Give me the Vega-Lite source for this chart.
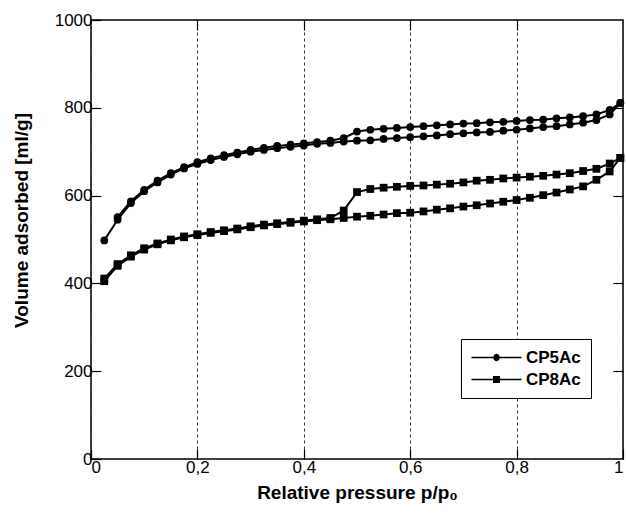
{
  "$schema": "https://vega.github.io/schema/vega-lite/v6.json",
  "width": 532,
  "height": 439,
  "autosize": {"type": "none"},
  "padding": {"left": 91, "top": 20, "right": 3, "bottom": 60},
  "background": "white",
  "config": {
    "view": {"stroke": "black", "strokeWidth": 1.5},
    "font": "Liberation Sans",
    "axis": {
      "labelFont": "Liberation Sans",
      "titleFont": "Liberation Sans",
      "labelColor": "black",
      "titleColor": "black",
      "tickColor": "black",
      "labelFontSize": 17,
      "titleFontSize": 19,
      "titleFontWeight": "bold",
      "domain": false
    }
  },
  "datasets": {
    "iso": [
      {"s":"CP5Ac","b":"ads","p":0.025,"v":498},{"s":"CP5Ac","b":"ads","p":0.05,"v":545},{"s":"CP5Ac","b":"ads","p":0.075,"v":583},{"s":"CP5Ac","b":"ads","p":0.1,"v":610},{"s":"CP5Ac","b":"ads","p":0.125,"v":630},{"s":"CP5Ac","b":"ads","p":0.15,"v":648},{"s":"CP5Ac","b":"ads","p":0.175,"v":662},{"s":"CP5Ac","b":"ads","p":0.2,"v":672},{"s":"CP5Ac","b":"ads","p":0.225,"v":681},{"s":"CP5Ac","b":"ads","p":0.25,"v":688},{"s":"CP5Ac","b":"ads","p":0.275,"v":694},{"s":"CP5Ac","b":"ads","p":0.3,"v":700},{"s":"CP5Ac","b":"ads","p":0.325,"v":704},{"s":"CP5Ac","b":"ads","p":0.35,"v":708},{"s":"CP5Ac","b":"ads","p":0.375,"v":711},{"s":"CP5Ac","b":"ads","p":0.4,"v":714},{"s":"CP5Ac","b":"ads","p":0.425,"v":718},{"s":"CP5Ac","b":"ads","p":0.45,"v":720},{"s":"CP5Ac","b":"ads","p":0.475,"v":723},{"s":"CP5Ac","b":"ads","p":0.5,"v":725},{"s":"CP5Ac","b":"ads","p":0.525,"v":726},{"s":"CP5Ac","b":"ads","p":0.55,"v":729},{"s":"CP5Ac","b":"ads","p":0.575,"v":731},{"s":"CP5Ac","b":"ads","p":0.6,"v":733},{"s":"CP5Ac","b":"ads","p":0.625,"v":735},{"s":"CP5Ac","b":"ads","p":0.65,"v":737},{"s":"CP5Ac","b":"ads","p":0.675,"v":740},{"s":"CP5Ac","b":"ads","p":0.7,"v":742},{"s":"CP5Ac","b":"ads","p":0.725,"v":744},{"s":"CP5Ac","b":"ads","p":0.75,"v":745},{"s":"CP5Ac","b":"ads","p":0.775,"v":748},{"s":"CP5Ac","b":"ads","p":0.8,"v":750},{"s":"CP5Ac","b":"ads","p":0.825,"v":753},{"s":"CP5Ac","b":"ads","p":0.85,"v":756},{"s":"CP5Ac","b":"ads","p":0.875,"v":758},{"s":"CP5Ac","b":"ads","p":0.9,"v":762},{"s":"CP5Ac","b":"ads","p":0.925,"v":766},{"s":"CP5Ac","b":"ads","p":0.95,"v":772},{"s":"CP5Ac","b":"ads","p":0.975,"v":785},{"s":"CP5Ac","b":"ads","p":0.995,"v":811},
      {"s":"CP5Ac","b":"des","p":0.995,"v":811},{"s":"CP5Ac","b":"des","p":0.975,"v":795},{"s":"CP5Ac","b":"des","p":0.95,"v":785},{"s":"CP5Ac","b":"des","p":0.925,"v":781},{"s":"CP5Ac","b":"des","p":0.9,"v":778},{"s":"CP5Ac","b":"des","p":0.875,"v":776},{"s":"CP5Ac","b":"des","p":0.85,"v":773},{"s":"CP5Ac","b":"des","p":0.825,"v":772},{"s":"CP5Ac","b":"des","p":0.8,"v":770},{"s":"CP5Ac","b":"des","p":0.775,"v":768},{"s":"CP5Ac","b":"des","p":0.75,"v":767},{"s":"CP5Ac","b":"des","p":0.725,"v":765},{"s":"CP5Ac","b":"des","p":0.7,"v":764},{"s":"CP5Ac","b":"des","p":0.675,"v":762},{"s":"CP5Ac","b":"des","p":0.65,"v":760},{"s":"CP5Ac","b":"des","p":0.625,"v":758},{"s":"CP5Ac","b":"des","p":0.6,"v":756},{"s":"CP5Ac","b":"des","p":0.575,"v":754},{"s":"CP5Ac","b":"des","p":0.55,"v":752},{"s":"CP5Ac","b":"des","p":0.525,"v":750},{"s":"CP5Ac","b":"des","p":0.5,"v":746},{"s":"CP5Ac","b":"des","p":0.475,"v":731},{"s":"CP5Ac","b":"des","p":0.45,"v":725},{"s":"CP5Ac","b":"des","p":0.425,"v":722},{"s":"CP5Ac","b":"des","p":0.4,"v":719},{"s":"CP5Ac","b":"des","p":0.375,"v":716},{"s":"CP5Ac","b":"des","p":0.35,"v":713},{"s":"CP5Ac","b":"des","p":0.325,"v":709},{"s":"CP5Ac","b":"des","p":0.3,"v":704},{"s":"CP5Ac","b":"des","p":0.275,"v":698},{"s":"CP5Ac","b":"des","p":0.25,"v":692},{"s":"CP5Ac","b":"des","p":0.225,"v":685},{"s":"CP5Ac","b":"des","p":0.2,"v":676},{"s":"CP5Ac","b":"des","p":0.175,"v":665},{"s":"CP5Ac","b":"des","p":0.15,"v":651},{"s":"CP5Ac","b":"des","p":0.125,"v":634},{"s":"CP5Ac","b":"des","p":0.1,"v":613},{"s":"CP5Ac","b":"des","p":0.075,"v":587},{"s":"CP5Ac","b":"des","p":0.05,"v":551},
      {"s":"CP8Ac","b":"ads","p":0.025,"v":405},{"s":"CP8Ac","b":"ads","p":0.05,"v":440},{"s":"CP8Ac","b":"ads","p":0.075,"v":461},{"s":"CP8Ac","b":"ads","p":0.1,"v":477},{"s":"CP8Ac","b":"ads","p":0.125,"v":489},{"s":"CP8Ac","b":"ads","p":0.15,"v":498},{"s":"CP8Ac","b":"ads","p":0.175,"v":505},{"s":"CP8Ac","b":"ads","p":0.2,"v":510},{"s":"CP8Ac","b":"ads","p":0.225,"v":515},{"s":"CP8Ac","b":"ads","p":0.25,"v":519},{"s":"CP8Ac","b":"ads","p":0.275,"v":523},{"s":"CP8Ac","b":"ads","p":0.3,"v":528},{"s":"CP8Ac","b":"ads","p":0.325,"v":532},{"s":"CP8Ac","b":"ads","p":0.35,"v":535},{"s":"CP8Ac","b":"ads","p":0.375,"v":538},{"s":"CP8Ac","b":"ads","p":0.4,"v":541},{"s":"CP8Ac","b":"ads","p":0.425,"v":544},{"s":"CP8Ac","b":"ads","p":0.45,"v":546},{"s":"CP8Ac","b":"ads","p":0.475,"v":549},{"s":"CP8Ac","b":"ads","p":0.5,"v":552},{"s":"CP8Ac","b":"ads","p":0.525,"v":554},{"s":"CP8Ac","b":"ads","p":0.55,"v":557},{"s":"CP8Ac","b":"ads","p":0.575,"v":560},{"s":"CP8Ac","b":"ads","p":0.6,"v":561},{"s":"CP8Ac","b":"ads","p":0.625,"v":564},{"s":"CP8Ac","b":"ads","p":0.65,"v":568},{"s":"CP8Ac","b":"ads","p":0.675,"v":571},{"s":"CP8Ac","b":"ads","p":0.7,"v":575},{"s":"CP8Ac","b":"ads","p":0.725,"v":578},{"s":"CP8Ac","b":"ads","p":0.75,"v":582},{"s":"CP8Ac","b":"ads","p":0.775,"v":586},{"s":"CP8Ac","b":"ads","p":0.8,"v":590},{"s":"CP8Ac","b":"ads","p":0.825,"v":595},{"s":"CP8Ac","b":"ads","p":0.85,"v":601},{"s":"CP8Ac","b":"ads","p":0.875,"v":607},{"s":"CP8Ac","b":"ads","p":0.9,"v":614},{"s":"CP8Ac","b":"ads","p":0.925,"v":621},{"s":"CP8Ac","b":"ads","p":0.95,"v":636},{"s":"CP8Ac","b":"ads","p":0.975,"v":655},{"s":"CP8Ac","b":"ads","p":0.995,"v":686},
      {"s":"CP8Ac","b":"des","p":0.995,"v":686},{"s":"CP8Ac","b":"des","p":0.975,"v":673},{"s":"CP8Ac","b":"des","p":0.95,"v":661},{"s":"CP8Ac","b":"des","p":0.925,"v":656},{"s":"CP8Ac","b":"des","p":0.9,"v":651},{"s":"CP8Ac","b":"des","p":0.875,"v":648},{"s":"CP8Ac","b":"des","p":0.85,"v":645},{"s":"CP8Ac","b":"des","p":0.825,"v":643},{"s":"CP8Ac","b":"des","p":0.8,"v":641},{"s":"CP8Ac","b":"des","p":0.775,"v":639},{"s":"CP8Ac","b":"des","p":0.75,"v":636},{"s":"CP8Ac","b":"des","p":0.725,"v":634},{"s":"CP8Ac","b":"des","p":0.7,"v":630},{"s":"CP8Ac","b":"des","p":0.675,"v":627},{"s":"CP8Ac","b":"des","p":0.65,"v":625},{"s":"CP8Ac","b":"des","p":0.625,"v":623},{"s":"CP8Ac","b":"des","p":0.6,"v":622},{"s":"CP8Ac","b":"des","p":0.575,"v":620},{"s":"CP8Ac","b":"des","p":0.55,"v":618},{"s":"CP8Ac","b":"des","p":0.525,"v":615},{"s":"CP8Ac","b":"des","p":0.5,"v":608},{"s":"CP8Ac","b":"des","p":0.475,"v":566},{"s":"CP8Ac","b":"des","p":0.45,"v":549},{"s":"CP8Ac","b":"des","p":0.425,"v":546},{"s":"CP8Ac","b":"des","p":0.4,"v":543},{"s":"CP8Ac","b":"des","p":0.375,"v":540},{"s":"CP8Ac","b":"des","p":0.35,"v":537},{"s":"CP8Ac","b":"des","p":0.325,"v":534},{"s":"CP8Ac","b":"des","p":0.3,"v":530},{"s":"CP8Ac","b":"des","p":0.275,"v":525},{"s":"CP8Ac","b":"des","p":0.25,"v":521},{"s":"CP8Ac","b":"des","p":0.225,"v":517},{"s":"CP8Ac","b":"des","p":0.2,"v":512},{"s":"CP8Ac","b":"des","p":0.175,"v":507},{"s":"CP8Ac","b":"des","p":0.15,"v":500},{"s":"CP8Ac","b":"des","p":0.125,"v":491},{"s":"CP8Ac","b":"des","p":0.1,"v":480},{"s":"CP8Ac","b":"des","p":0.075,"v":464},{"s":"CP8Ac","b":"des","p":0.05,"v":444},{"s":"CP8Ac","b":"des","p":0.025,"v":411}
    ]
  },
  "data": {"name": "iso"},
  "layer": [
    {
      "mark": {"type": "line", "color": "black", "strokeWidth": 2},
      "encoding": {
        "x": {
          "field": "p", "type": "quantitative",
          "scale": {"domain": [0, 1], "nice": false, "zero": false},
          "axis": {
            "orient": "bottom",
            "values": [0, 0.2, 0.4, 0.6, 0.8, 1],
            "labelExpr": "replace(format(datum.value, '~g'), '.', ',')",
            "grid": true, "gridDash": [3, 3], "gridColor": "#333333", "gridWidth": 1,
            "tickSize": -10, "tickWidth": 1.2,
            "labelPadding": 10,
            "title": "Relative pressure p/p₀",
            "titlePadding": 8
          }
        },
        "y": {
          "field": "v", "type": "quantitative",
          "scale": {"domain": [0, 1000], "nice": false},
          "axis": {
            "orient": "left",
            "values": [0, 200, 400, 600, 800, 1000],
            "format": "d",
            "grid": false,
            "tickSize": -10, "tickWidth": 1.2,
            "labelPadding": 9,
            "title": "Volume adsorbed [ml/g]",
            "titlePadding": 23,
            "titleY": 200
          }
        },
        "detail": [{"field": "s"}, {"field": "b"}]
      }
    },
    {
      "transform": [{"filter": "datum.s === 'CP5Ac'"}],
      "mark": {"type": "point", "shape": "circle", "filled": true, "color": "black", "opacity": 1, "size": 60},
      "encoding": {
        "x": {"field": "p", "type": "quantitative", "axis": null},
        "y": {"field": "v", "type": "quantitative", "axis": null}
      }
    },
    {
      "transform": [{"filter": "datum.s === 'CP8Ac'"}],
      "mark": {"type": "point", "shape": "square", "filled": true, "color": "black", "opacity": 1, "size": 60},
      "encoding": {
        "x": {"field": "p", "type": "quantitative", "axis": null},
        "y": {"field": "v", "type": "quantitative", "axis": null}
      }
    },
    {
      "transform": [{"filter": "false"}],
      "mark": {"type": "point", "filled": true, "color": "black", "opacity": 1, "size": 100},
      "encoding": {
        "x": {"field": "p", "type": "quantitative", "axis": null},
        "y": {"field": "v", "type": "quantitative", "axis": null},
        "shape": {
          "field": "s", "type": "nominal",
          "scale": {
            "domain": ["CP5Ac", "CP8Ac"],
            "range": [
              "M-5,-0.15L-0.6,-0.15A0.6,0.6 0 0,1 0.6,-0.15L5,-0.15L5,0.15L0.6,0.15A0.6,0.6 0 0,1 -0.6,0.15L-5,0.15Z",
              "M-5,-0.15L-0.7,-0.15L-0.7,-0.7L0.7,-0.7L0.7,-0.15L5,-0.15L5,0.15L0.7,0.15L0.7,0.7L-0.7,0.7L-0.7,0.15L-5,0.15Z"
            ]
          },
          "legend": {
            "orient": "none", "legendX": 370, "legendY": 319,
            "title": null,
            "strokeColor": "black", "fillColor": "white",
            "padding": 10,
            "symbolSize": 100, "symbolOffset": 17,
            "symbolFillColor": "black",
            "labelFont": "Liberation Sans", "labelFontSize": 17, "labelFontWeight": "bold", "labelColor": "black",
            "labelOffset": 21,
            "rowPadding": 4
          }
        }
      }
    },
    {
      "mark": {"type": "point", "opacity": 0},
      "encoding": {
        "x": {"field": "p", "type": "quantitative",
          "axis": {"orient": "top", "values": [0.2, 0.4, 0.6, 0.8], "labels": false, "title": null, "tickSize": -10, "tickWidth": 1.2, "grid": false}},
        "y": {"field": "v", "type": "quantitative",
          "axis": {"orient": "right", "values": [200, 400, 600, 800], "labels": false, "title": null, "tickSize": -10, "tickWidth": 1.2, "grid": false}}
      }
    }
  ],
  "resolve": {"axis": {"x": "independent", "y": "independent"}}
}
